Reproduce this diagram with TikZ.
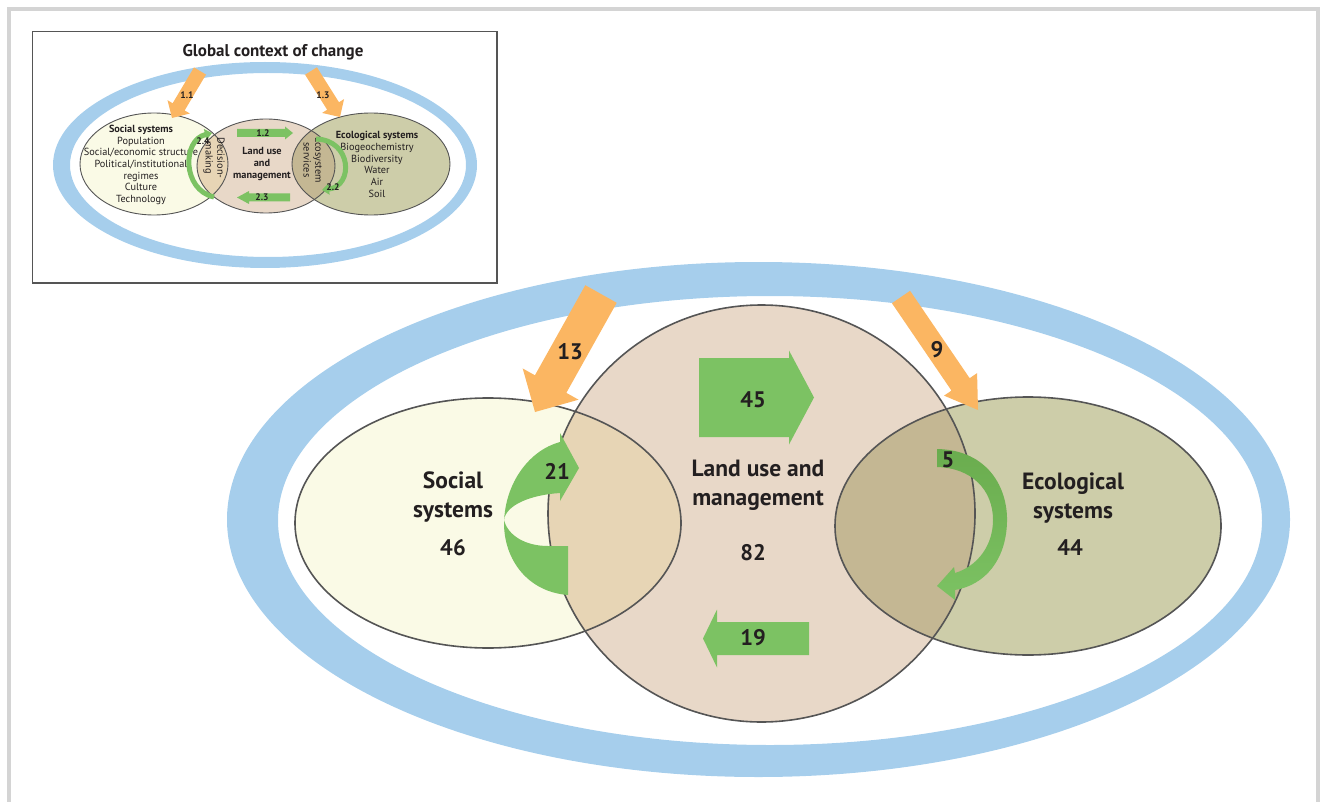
\documentclass[tikz,border=0pt]{standalone}
\usepackage{fontspec}
\setmainfont{PT Sans}
\usetikzlibrary{calc,arrows.meta}
\definecolor{ringblue}{RGB}{166,206,236}
\definecolor{orng}{RGB}{251,182,98}
\definecolor{grn}{RGB}{124,194,99}
\definecolor{grnd}{RGB}{106,172,78}
\definecolor{socfill}{RGB}{250,250,230}
\definecolor{landfill}{RGB}{232,216,200}
\definecolor{ecofill}{RGB}{205,205,169}
\definecolor{slfill}{RGB}{231,213,181}
\definecolor{lefill}{RGB}{196,183,147}
\definecolor{outl}{RGB}{85,85,85}
\definecolor{framegray}{RGB}{212,212,212}
\definecolor{txt}{RGB}{35,31,32}
\newcommand{\blockarrow}[6]{%
  \coordinate (ba-t) at (#1);
  \coordinate (ba-h) at (#2);
  \coordinate (ba-b) at ($(ba-h)!#5!(ba-t)$);
  \fill[#6] ($(ba-t)!#3!90:(ba-h)$) -- ($(ba-b)!#3!-90:(ba-t)$) -- ($(ba-b)!#4!-90:(ba-t)$) -- (ba-h)
    -- ($(ba-b)!#4!90:(ba-t)$) -- ($(ba-b)!#3!90:(ba-t)$) -- ($(ba-t)!#3!-90:(ba-h)$) -- cycle;}
\tikzset{
  outline/.style={draw=outl, line width=1.6pt},
  ioutline/.style={draw=outl, line width=0.9pt},
  biglbl/.style={text=txt, font=\fontsize{23.5}{29}\selectfont\bfseries, align=center, inner sep=0pt},
  numlbl/.style={text=txt, font=\fontsize{22.5}{25}\selectfont\bfseries, inner sep=0pt},
  smalltxt/.style={text=txt, font=\fontsize{10.3}{11.7}\selectfont, align=center, inner sep=0pt},
  smallnum/.style={text=txt, font=\fontsize{9.5}{10}\selectfont\bfseries, inner sep=0pt},
  icurve/.style={draw=grn, line width=5pt, -{Triangle[width=11pt,length=7pt]}}
}
\begin{document}
\begin{tikzpicture}[x=1pt,y=-1pt]
\useasboundingbox (0,0) rectangle (1321,802);
% outer frame
\draw[framegray, line width=4pt] (8.5,810) -- (8.5,9.5) -- (1318,9.5) -- (1318,810);

% ================= inset =================
\draw[outl, line width=1.4pt] (32.5,31.5) rectangle (497,283);
\node[text=txt, font=\fontsize{17}{19}\selectfont\bfseries, inner sep=0pt] (ititle) at (273,52) {Global context of change};
\fill[ringblue, even odd rule] (265,165) ellipse [x radius=212, y radius=103] (268,165) ellipse [x radius=198, y radius=92];
\fill[socfill] (154,164) ellipse [x radius=74, y radius=51];
\fill[landfill] (266,166) ellipse [x radius=69, y radius=47];
\fill[ecofill] (371,164) ellipse [x radius=79, y radius=51];
\begin{scope}
  \clip (154,164) ellipse [x radius=74, y radius=51];
  \fill[slfill] (266,166) ellipse [x radius=69, y radius=47];
\end{scope}
\begin{scope}
  \clip (371,164) ellipse [x radius=79, y radius=51];
  \fill[lefill] (266,166) ellipse [x radius=69, y radius=47];
\end{scope}
\draw[ioutline] (154,164) ellipse [x radius=74, y radius=51];
\draw[ioutline] (266,166) ellipse [x radius=69, y radius=47];
\draw[ioutline] (371,164) ellipse [x radius=79, y radius=51];

\node[smalltxt] (isoc) at (141,165) {\textbf{Social systems}\\Population\\Social/economic structure\\Political/institutional\\regimes\\Culture\\Technology};
\node[smalltxt, font=\fontsize{10.3}{12}\selectfont\bfseries] (iland) at (262,164) {Land use\\and\\management};
\node[smalltxt] (ieco) at (377,164.5) {\textbf{Ecological systems}\\Biogeochemistry\\Biodiversity\\Water\\Air\\Soil};
\node[smalltxt, rotate=-90] (idec) at (214,158) {Decision-\\making};
\node[smalltxt, rotate=-90] (iecs) at (313,160) {Ecosystem\\services};

\blockarrow{200,71}{172,118}{7pt}{13pt}{13pt}{orng}
\blockarrow{311,71}{340,117}{7pt}{13pt}{13pt}{orng}
\blockarrow{237,133}{293,133}{4pt}{6.5pt}{8pt}{grn}
\blockarrow{290,197.5}{237,197.5}{4pt}{6.5pt}{12pt}{grn}
\coordinate (c24a) at (214,197);
\coordinate (c24b) at (212,133);
\draw[icurve] (c24a) .. controls (182,190) and (182,140) .. (c24b);
\coordinate (c22a) at (316,139);
\coordinate (c22b) at (322,190);
\draw[icurve] (c22a) .. controls (352,140) and (354,186) .. (c22b);
\node[smallnum] (n11) at (187,95) {1.1};
\node[smallnum] (n13) at (323,95) {1.3};
\node[smallnum] (n12) at (263,133) {1.2};
\node[smallnum] (n23) at (262,197.5) {2.3};
\node[smallnum] (n24) at (203,141) {2.4};
\node[smallnum] (n22) at (333,187) {2.2};

% ================= main =================
\fill[ringblue, even odd rule] (758.5,519.5) ellipse [x radius=531.5, y radius=257.5] (770,520.5) ellipse [x radius=492, y radius=224.5];
\fill[socfill] (488,523) ellipse [x radius=193, y radius=125];
\fill[landfill] (761.5,513.5) ellipse [x radius=213.5, y radius=208.5];
\fill[ecofill] (1028,526) ellipse [x radius=193, y radius=129];
\begin{scope}
  \clip (488,523) ellipse [x radius=193, y radius=125];
  \fill[slfill] (761.5,513.5) ellipse [x radius=213.5, y radius=208.5];
\end{scope}
\begin{scope}
  \clip (1028,526) ellipse [x radius=193, y radius=129];
  \fill[lefill] (761.5,513.5) ellipse [x radius=213.5, y radius=208.5];
\end{scope}
\draw[outline] (488,523) ellipse [x radius=193, y radius=125];
\draw[outline] (761.5,513.5) ellipse [x radius=213.5, y radius=208.5];
\draw[outline] (1028,526) ellipse [x radius=193, y radius=129];

% orange arrows
\blockarrow{601,294}{535,412}{18pt}{32pt}{32pt}{orng}
\blockarrow{901,297}{978,410}{11pt}{20pt}{31pt}{orng}
% green straight arrows
\blockarrow{699,397.5}{814,397.5}{39.5pt}{47pt}{25pt}{grn}
\blockarrow{809,638.5}{703,638.5}{16.5pt}{29pt}{14pt}{grn}
% green curved arrow 21
\fill[grn] (560,433) -- (579,468) -- (560,501) -- (560,493)
  .. controls (530,495) and (506,505) .. (504,520)
  .. controls (508,536) and (526,546) .. (548,546) -- (568,546) -- (568,595)
  .. controls (528,592) and (504,560) .. (504,523)
  .. controls (505,482) and (530,450) .. (560,442) -- cycle;
% green curved arrow 5
\shade[top color=grnd, bottom color=grn] (937,449)
  .. controls (988,450) and (1008,488) .. (1007,522)
  .. controls (1006,560) and (985,585) .. (955,590) -- (955,600) -- (937,586) -- (954,567) -- (955,573)
  .. controls (978,566) and (993,545) .. (993,520)
  .. controls (993,490) and (972,468) .. (937,467) -- cycle;

% labels
\node[biglbl] (soc) at (453,497) {Social\\systems};
\node[numlbl] (socn) at (453,548) {46};
\node[biglbl] (land) at (758,485) {Land use and\\management};
\node[numlbl] (landn) at (753,553) {82};
\node[biglbl] (eco) at (1073,498) {Ecological\\systems};
\node[numlbl] (econ) at (1070,548) {44};
\node[numlbl] (a13) at (570,352) {13};
\node[numlbl] (a9) at (937,350) {9};
\node[numlbl] (a45) at (753,400) {45};
\node[numlbl] (a19) at (753,638) {19};
\node[numlbl] (a21) at (557,471) {21};
\node[numlbl] (a5) at (948,460) {5};
\end{tikzpicture}
\end{document}
